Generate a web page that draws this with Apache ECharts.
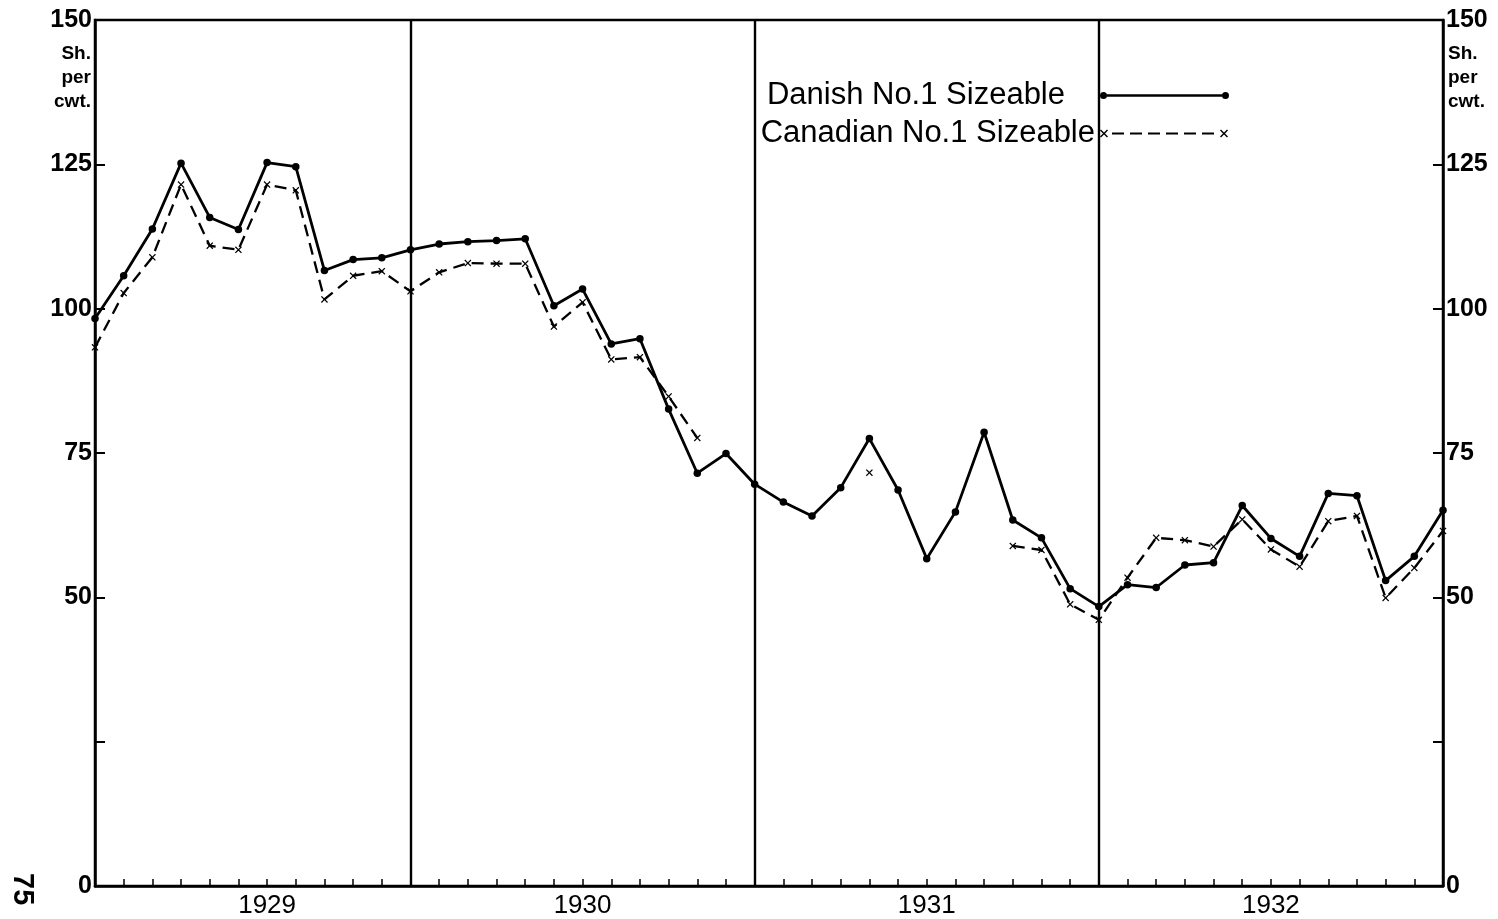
<!DOCTYPE html>
<html><head><meta charset="utf-8">
<script src="https://cdn.jsdelivr.net/npm/echarts@6/dist/echarts.min.js"></script>
<style>html,body{margin:0;padding:0;background:#fff}#c{width:1498px;height:919px}</style>
</head><body><div id="c"></div>
<script>
const years = ['1929', '1930', '1931', '1932'];
const monthNames = ['Jan','Feb','Mar','Apr','May','Jun','Jul','Aug','Sep','Oct','Nov','Dec'];
const categories = [];
years.forEach(y => monthNames.forEach(m => categories.push(m + ' ' + y)));

// Danish No.1 Sizeable, shillings per cwt
const danish = [
  98.3, 105.7, 113.8, 125.2, 115.8, 113.7, 125.3, 124.6, 106.6, 108.5, 108.8, 110.2,
  111.2, 111.6, 111.8, 112.1, 100.5, 103.4, 93.9, 94.8, 82.6, 71.5, 74.9, 69.6,
  66.5, 64.1, 69.0, 77.5, 68.6, 56.7, 64.8, 78.6, 63.4, 60.3, 51.5, 48.4,
  52.2, 51.7, 55.6, 56.0, 65.9, 60.2, 57.1, 68.0, 67.6, 52.9, 57.1, 65.1
];
// Canadian No.1 Sizeable, shillings per cwt (gaps where not quoted)
const canadian = [
  93.3, 102.7, 108.9, 121.5, 110.9, 110.2, 121.5, 120.5, 101.6, 105.7, 106.5, 103.0,
  106.3, 107.9, 107.8, 107.8, 96.9, 101.1, 91.2, 91.6, 84.8, 77.6, null, null,
  null, null, null, 71.6, null, null, null, null, 58.9, 58.2, 48.8, 46.1,
  53.4, 60.3, 59.9, 58.8, 63.5, 58.3, 55.3, 63.2, 64.1, 49.9, 55.1, 61.5
];
const yearLabelIndex = [6, 17, 29, 41];
const yearBoundaryIndex = [11, 23, 35];
const yMin = 0, yMax = 150, yStep = 25;
const yUnlabelled = [25];
const unitText = 'Sh.\nper\ncwt.';
const pageNumber = '75';
const seriesNames = ['Danish No.1 Sizeable', 'Canadian No.1 Sizeable'];

const FONT = '"Liberation Sans", Arial, sans-serif';
const X_SYMBOL = 'path://M0,1L1,0L4,3L7,0L8,1L5,4L8,7L7,8L4,5L1,8L0,7L3,4Z';
const DANISH_ICON = 'path://M0,3.5a3.5,3.5 0 1,0 7,0a3.5,3.5 0 1,0 -7,0ZM122,3.5a3.5,3.5 0 1,0 7,0a3.5,3.5 0 1,0 -7,0ZM6.9,2.2L122.1,2.2L122.1,4.8L6.9,4.8Z';
let canPath = 'path://M0,1L1,0L4,3L7,0L8,1L5,4L8,7L7,8L4,5L1,8L0,7L3,4Z' +
  'M120,1L121,0L124,3L127,0L128,1L125,4L128,7L127,8L124,5L121,8L120,7L123,4Z';
for (let s = 12; s + 12 <= 115; s += 18) {
  canPath += 'M' + s + ',3L' + (s + 12) + ',3L' + (s + 12) + ',5L' + s + ',5Z';
}
const CAN_ICON = canPath;

const yAxisCommon = {
  type: 'value', min: yMin, max: yMax, interval: yStep,
  axisLine: { show: true, lineStyle: { color: '#000', width: 2.5 } },
  axisTick: { show: true, inside: true, length: 10, lineStyle: { color: '#000', width: 2 } },
  axisLabel: {
    color: '#000', fontSize: 25, fontWeight: 'bold', fontFamily: FONT, margin: 3,
    formatter: v => yUnlabelled.includes(v) ? '' : String(v)
  },
  splitLine: { show: false }
};

const chart = echarts.init(document.getElementById('c'));
chart.setOption({
  animation: false,
  backgroundColor: '#fff',
  grid: { left: 95, right: 55, top: 20, bottom: 32, show: true, borderColor: '#000', borderWidth: 2.5, backgroundColor: 'transparent' },
  legend: [
    {
      data: [{ name: seriesNames[0], icon: DANISH_ICON }],
      orient: 'vertical', align: 'right', right: 269, top: 80, padding: 0,
      itemWidth: 129, itemHeight: 7, selectedMode: false,
      itemStyle: { color: '#000', borderWidth: 0 },
      textStyle: { fontSize: 31, color: '#000', fontFamily: FONT, padding: [0, 30, 8, 0] }
    },
    {
      data: [{ name: seriesNames[1], icon: CAN_ICON }],
      orient: 'vertical', align: 'right', right: 270, top: 118, padding: 0,
      itemWidth: 128, itemHeight: 8, selectedMode: false,
      itemStyle: { color: '#000', borderWidth: 0 },
      textStyle: { fontSize: 31, color: '#000', fontFamily: FONT, padding: [0, 0, 8, 0] }
    }
  ],
  xAxis: {
    type: 'category', data: categories, boundaryGap: false,
    axisLine: { lineStyle: { color: '#000', width: 2.5 } },
    axisTick: { show: true, inside: true, length: 7, interval: 0, lineStyle: { color: '#000', width: 1.5 } },
    axisLabel: {
      interval: (i) => yearLabelIndex.includes(i),
      formatter: (v) => v.split(' ')[1],
      color: '#000', fontSize: 26, fontFamily: FONT, margin: 7
    },
    splitLine: { show: true, interval: (i) => yearBoundaryIndex.includes(i), lineStyle: { color: '#000', width: 2.4 } }
  },
  yAxis: [
    Object.assign({}, yAxisCommon, { position: 'left' }),
    Object.assign({}, yAxisCommon, { position: 'right' })
  ],
  series: [
    {
      name: seriesNames[0], type: 'line', data: danish, yAxisIndex: 0,
      symbol: 'circle', symbolSize: 7.5, showAllSymbol: true,
      lineStyle: { color: '#000', width: 2.8 },
      itemStyle: { color: '#000', borderWidth: 0 },
      emphasis: { disabled: true }, z: 3
    },
    {
      name: seriesNames[1], type: 'line', data: canadian, yAxisIndex: 0,
      symbol: X_SYMBOL, symbolSize: 7, showAllSymbol: true, connectNulls: false,
      lineStyle: { color: '#000', width: 2.3, type: [12, 7] },
      itemStyle: { color: '#000', borderWidth: 0 },
      emphasis: { disabled: true }, z: 2
    }
  ],
  graphic: [
    { type: 'text', x: 91, y: 42, style: { text: unitText, fill: '#000', font: 'bold 19px ' + FONT, lineHeight: 24, align: 'right', verticalAlign: 'top' } },
    { type: 'text', x: 1448, y: 42, style: { text: unitText, fill: '#000', font: 'bold 19px ' + FONT, lineHeight: 24, align: 'left', verticalAlign: 'top' } },
    { type: 'text', x: 36, y: 873, rotation: -Math.PI / 2, style: { text: pageNumber, fill: '#000', font: 'bold 29px ' + FONT, verticalAlign: 'top' } }
  ]
});
</script>
</body></html>
